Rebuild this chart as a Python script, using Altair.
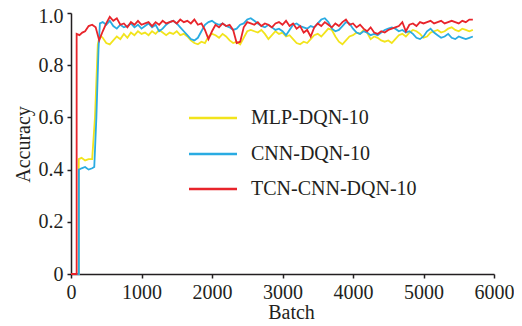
import altair as alt
import pandas as pd

series_names = ["MLP-DQN-10", "CNN-DQN-10", "TCN-CNN-DQN-10"]
series_colors = ["#F2E41C", "#29ABE2", "#E8242B"]

# early (start-up) segments
mlp_early_batch = [0, 110, 110, 150, 200, 250, 300, 340, 380, 410]
mlp_early_acc = [0, 0, 0.44, 0.445, 0.435, 0.44, 0.44, 0.60, 0.88, 0.915]
cnn_early_batch = [0, 112, 112, 150, 200, 250, 300, 330, 360, 390, 410]
cnn_early_acc = [0, 0, 0.40, 0.405, 0.41, 0.40, 0.405, 0.41, 0.60, 0.86, 0.96]
tcn_early_batch = [0, 80, 80, 120, 160, 200, 250, 300, 350, 400]
tcn_early_acc = [0, 0, 0.92, 0.915, 0.925, 0.93, 0.95, 0.955, 0.945, 0.895]

# steady part, every 50 batches from 450 to 5700
steady_batch = list(range(450, 5701, 50))
mlp_acc = [
    0.905, 0.885, 0.88, 0.895, 0.91, 0.90, 0.92, 0.905, 0.925, 0.915,
    0.93, 0.92, 0.925, 0.915, 0.93, 0.92, 0.935, 0.925, 0.915, 0.925,
    0.92, 0.93, 0.915, 0.92, 0.91, 0.895, 0.885, 0.88, 0.89, 0.885,
    0.91, 0.92, 0.915, 0.905, 0.92, 0.91, 0.895, 0.885, 0.89, 0.88,
    0.905, 0.93, 0.935, 0.93, 0.925, 0.935, 0.92, 0.90, 0.915, 0.93,
    0.92, 0.925, 0.91, 0.915, 0.90, 0.885, 0.88, 0.89, 0.885, 0.90,
    0.915, 0.92, 0.91, 0.925, 0.94, 0.935, 0.91, 0.89, 0.88, 0.895,
    0.91, 0.915, 0.925, 0.92, 0.935, 0.925, 0.90, 0.91, 0.905, 0.895,
    0.89, 0.895, 0.885, 0.90, 0.915, 0.92, 0.91, 0.925, 0.935, 0.93,
    0.92, 0.905, 0.91, 0.925, 0.93, 0.935, 0.925, 0.93, 0.94, 0.945,
    0.935, 0.93, 0.94, 0.935, 0.93, 0.935,
]
cnn_acc = [
    0.965, 0.955, 0.97, 0.95, 0.94, 0.955, 0.945, 0.95, 0.96, 0.945,
    0.955, 0.94, 0.95, 0.96, 0.945, 0.955, 0.93, 0.94, 0.955, 0.965,
    0.97, 0.96, 0.945, 0.93, 0.915, 0.90, 0.895, 0.905, 0.93, 0.955,
    0.965, 0.97, 0.96, 0.955, 0.96, 0.95, 0.945, 0.935, 0.94, 0.955,
    0.96, 0.975, 0.98, 0.97, 0.96, 0.95, 0.945, 0.955, 0.945, 0.935,
    0.94, 0.93, 0.915, 0.935, 0.955, 0.96, 0.95, 0.945, 0.94, 0.95,
    0.945, 0.96, 0.975, 0.98, 0.965, 0.94, 0.93, 0.935, 0.95, 0.965,
    0.96, 0.94, 0.925, 0.92, 0.93, 0.925, 0.915, 0.92, 0.915, 0.925,
    0.935, 0.94, 0.945, 0.94, 0.93, 0.935, 0.925, 0.93, 0.92, 0.905,
    0.90, 0.91, 0.93, 0.94, 0.925, 0.915, 0.905, 0.91, 0.92, 0.905,
    0.90, 0.91, 0.905, 0.90, 0.905, 0.91,
]
tcn_acc = [
    0.93, 0.96, 0.985, 0.97, 0.98, 0.955, 0.96, 0.945, 0.965, 0.955,
    0.97, 0.955, 0.96, 0.965, 0.95, 0.965, 0.955, 0.97, 0.96, 0.965,
    0.97, 0.96, 0.975, 0.965, 0.97, 0.96, 0.975, 0.955, 0.96, 0.935,
    0.90, 0.93, 0.955, 0.945, 0.96, 0.95, 0.955, 0.935, 0.885, 0.89,
    0.945, 0.965, 0.96, 0.955, 0.965, 0.95, 0.96, 0.955, 0.945, 0.96,
    0.965, 0.955, 0.97, 0.95, 0.96, 0.94, 0.95, 0.925, 0.935, 0.91,
    0.945, 0.96, 0.95, 0.965, 0.955, 0.945, 0.96, 0.95, 0.965, 0.975,
    0.955, 0.96, 0.945, 0.955, 0.94, 0.93, 0.945, 0.925, 0.92, 0.93,
    0.925, 0.935, 0.94, 0.945, 0.95, 0.965, 0.93, 0.955, 0.96, 0.95,
    0.965, 0.96, 0.965, 0.97, 0.96, 0.965, 0.97, 0.96, 0.965, 0.97,
    0.965, 0.96, 0.97, 0.965, 0.975, 0.975,
]

x_ticks = [0, 1000, 2000, 3000, 4000, 5000, 6000]
y_ticks = [0, 0.2, 0.4, 0.6, 0.8, 1.0]

FONT = "Liberation Serif"
TXT = "#231F20"
W, H = 423, 261

def frame(name, eb, ea, acc):
    return pd.DataFrame({
        "batch": eb + steady_batch,
        "acc": ea + acc,
        "series": name,
    })

frames = [
    frame(series_names[0], mlp_early_batch, mlp_early_acc, mlp_acc),
    frame(series_names[1], cnn_early_batch, cnn_early_acc, cnn_acc),
    frame(series_names[2], tcn_early_batch, tcn_early_acc, tcn_acc),
]

x_enc = alt.X(
    "batch:Q",
    scale=alt.Scale(domain=[0, 6000], nice=False),
    axis=alt.Axis(
        values=x_ticks, format="d", title="Batch", labelFlush=False,
        titleX=220, titleY=44, titleBaseline="alphabetic",
    ),
)
y_enc = alt.Y(
    "acc:Q",
    scale=alt.Scale(domain=[0, 1], nice=False),
    axis=alt.Axis(
        values=y_ticks, labelFlush=False,
        labelOffset={"condition": {"test": "datum.value == 1", "value": 3}, "value": 0},
        labelExpr="datum.value == 0 ? '0' : format(datum.value, '.1f')",
        title="Accuracy", titleX=-42, titleY=131, titleAngle=270,
        titleBaseline="alphabetic", titleAlign="center",
    ),
)

layers = []
for i, df in enumerate(frames):
    layers.append(
        alt.Chart(df).mark_line(strokeWidth=1.8, color=series_colors[i], interpolate="linear")
        .encode(x=x_enc, y=y_enc, order="idx:Q")
        .transform_window(idx="row_number()")
    )

# legend drawn inside the plot
leg_rows_y = [105, 141, 176]
for i, name in enumerate(series_names):
    layers.append(
        alt.Chart(pd.DataFrame({"s": [name]})).mark_rule(strokeWidth=2.5, color=series_colors[i])
        .encode(x=alt.value(118), x2=alt.value(166), y=alt.value(leg_rows_y[i]))
    )
    layers.append(
        alt.Chart(pd.DataFrame({"s": [name]})).mark_text(
            align="left", baseline="middle", font=FONT, fontSize=20, color=TXT
        ).encode(x=alt.value(180), y=alt.value(leg_rows_y[i]), text="s:N")
    )

chart = (
    alt.layer(*layers)
    .properties(
        width=W, height=H,
        autosize=alt.AutoSizeParams(type="none"),
        padding={"left": 63, "top": 5, "right": 20, "bottom": 47},
    )
    .configure_view(stroke=None)
    .configure_axis(
        grid=False,
        domainColor=TXT, domainWidth=1.5,
        tickColor=TXT, tickWidth=1.5, tickSize=4,
        labelFont=FONT, labelFontSize=20, labelColor=TXT, labelPadding=4,
        titleFont=FONT, titleFontSize=20, titleColor=TXT, titleFontWeight="normal",
    )
)

chart.save("out.html", embed_options={"renderer": "svg", "actions": False})
